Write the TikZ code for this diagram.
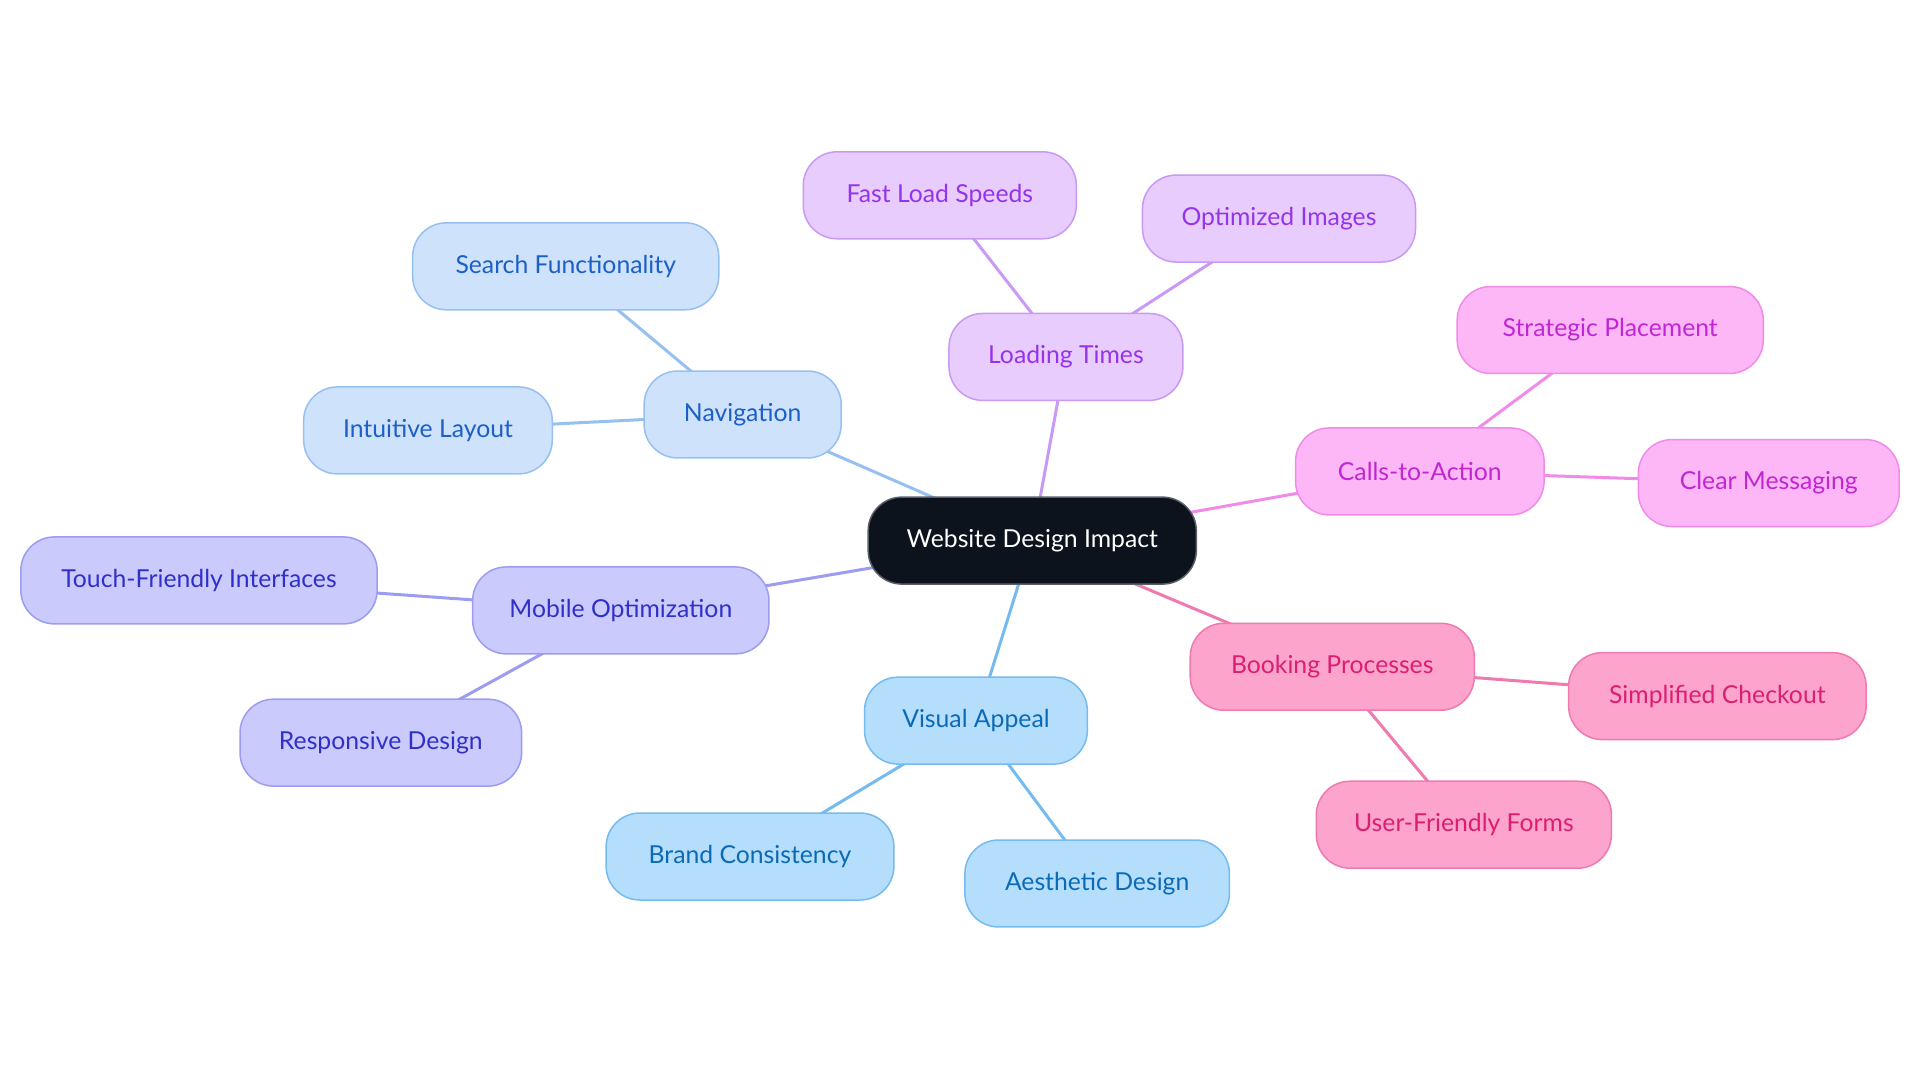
\documentclass[tikz,border=0pt]{standalone}
\usepackage{fontspec}
\setmainfont{Lato}
\usetikzlibrary{backgrounds}
\usepackage{xcolor}
\definecolor{rootfill}{HTML}{0D131C}
\definecolor{rootline}{HTML}{5A5F68}
\definecolor{navfill}{HTML}{CFE2FB}
\definecolor{navline}{HTML}{96C0F1}
\definecolor{navtext}{HTML}{1B5FC7}
\definecolor{loadfill}{HTML}{E8CCFD}
\definecolor{loadline}{HTML}{C89AF5}
\definecolor{loadtext}{HTML}{9333EA}
\definecolor{ctafill}{HTML}{FDB6F6}
\definecolor{ctaline}{HTML}{F08BE8}
\definecolor{ctatext}{HTML}{C026D3}
\definecolor{bookfill}{HTML}{FDA4CC}
\definecolor{bookline}{HTML}{EF7AAF}
\definecolor{booktext}{HTML}{DB1E72}
\definecolor{visfill}{HTML}{B4DEFC}
\definecolor{visline}{HTML}{76BBEF}
\definecolor{vistext}{HTML}{0B6AB6}
\definecolor{mobfill}{HTML}{CACAFC}
\definecolor{mobline}{HTML}{9C9CF0}
\definecolor{mobtext}{HTML}{3030C8}

\begin{document}
\begin{tikzpicture}[
    pill/.style={rectangle, rounded corners=0.55cm, minimum height=1.42cm, line width=0.7pt, font=\fontsize{11.5}{14}\selectfont},
    rootbox/.style={pill, fill=rootfill, draw=rootline, text=white},
    navbox/.style={pill, fill=navfill, draw=navline, text=navtext},
    loadbox/.style={pill, fill=loadfill, draw=loadline, text=loadtext},
    ctabox/.style={pill, fill=ctafill, draw=ctaline, text=ctatext},
    bookbox/.style={pill, fill=bookfill, draw=bookline, text=booktext},
    visbox/.style={pill, fill=visfill, draw=visline, text=vistext},
    mobbox/.style={pill, fill=mobfill, draw=mobline, text=mobtext},
    link/.style={line width=1.4pt}
  ]
    \useasboundingbox (0,0) rectangle (31.36,-17.68);

    \node [rootbox, minimum width=5.36cm] (root) at (16.86,-8.83) {Website Design Impact};

    \node [navbox, minimum width=3.22cm] (nav) at (12.13,-6.77) {Navigation};
    \node [navbox, minimum width=5.00cm] (search) at (9.24,-4.35) {Search Functionality};
    \node [navbox, minimum width=4.06cm] (layout) at (6.99,-7.03) {Intuitive Layout};

    \node [loadbox, minimum width=3.82cm] (load) at (17.41,-5.83) {Loading Times};
    \node [loadbox, minimum width=4.46cm] (speed) at (15.35,-3.19) {Fast Load Speeds};
    \node [loadbox, minimum width=4.46cm] (images) at (20.89,-3.57) {Optimized Images};

    \node [ctabox, minimum width=4.06cm] (cta) at (23.19,-7.70) {Calls-to-Action};
    \node [ctabox, minimum width=5.00cm] (place) at (26.30,-5.39) {Strategic Placement};
    \node [ctabox, minimum width=4.26cm] (message) at (28.89,-7.89) {Clear Messaging};

    \node [bookbox, minimum width=4.64cm] (book) at (21.76,-10.89) {Booking Processes};
    \node [bookbox, minimum width=4.86cm] (checkout) at (28.05,-11.37) {Simplified Checkout};
    \node [bookbox, minimum width=4.82cm] (forms) at (23.91,-13.47) {User-Friendly Forms};

    \node [visbox, minimum width=3.64cm] (visual) at (15.94,-11.77) {Visual Appeal};
    \node [visbox, minimum width=4.70cm] (brand) at (12.25,-13.99) {Brand Consistency};
    \node [visbox, minimum width=4.32cm] (aesthetic) at (17.92,-14.43) {Aesthetic Design};

    \node [mobbox, minimum width=4.84cm] (mobile) at (10.14,-9.97) {Mobile Optimization};
    \node [mobbox, minimum width=5.82cm] (touch) at (3.25,-9.48) {Touch-Friendly Interfaces};
    \node [mobbox, minimum width=4.60cm] (responsive) at (6.22,-12.13) {Responsive Design};

    % connectors go behind the boxes
    \begin{scope}[on background layer]
        \draw [link, navline] (root.center) -- (nav.center);
        \draw [link, navline] (nav.center) -- (search.center);
        \draw [link, navline] (nav.center) -- (layout.center);
        \draw [link, loadline] (root.center) -- (load.center);
        \draw [link, loadline] (load.center) -- (speed.center);
        \draw [link, loadline] (load.center) -- (images.center);
        \draw [link, ctaline] (root.center) -- (cta.center);
        \draw [link, ctaline] (cta.center) -- (place.center);
        \draw [link, ctaline] (cta.center) -- (message.center);
        \draw [link, bookline] (root.center) -- (book.center);
        \draw [link, bookline] (book.center) -- (checkout.center);
        \draw [link, bookline] (book.center) -- (forms.center);
        \draw [link, visline] (root.center) -- (visual.center);
        \draw [link, visline] (visual.center) -- (brand.center);
        \draw [link, visline] (visual.center) -- (aesthetic.center);
        \draw [link, mobline] (root.center) -- (mobile.center);
        \draw [link, mobline] (mobile.center) -- (touch.center);
        \draw [link, mobline] (mobile.center) -- (responsive.center);
    \end{scope}
\end{tikzpicture}
\end{document}
